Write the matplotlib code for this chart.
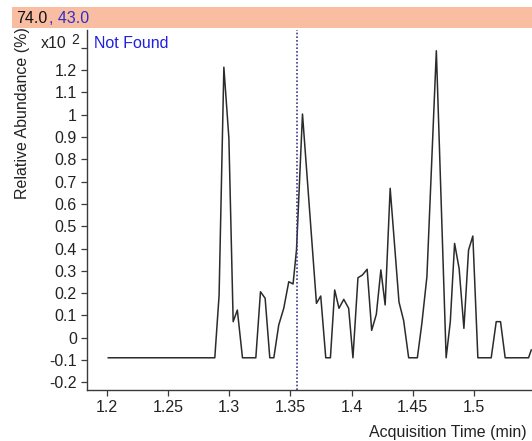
import matplotlib
matplotlib.use("Agg")
import matplotlib.pyplot as plt
from matplotlib.patches import Rectangle

plt.rcParams['font.family'] = ['Liberation Sans', 'DejaVu Sans']

# Extracted ion chromatogram (acquisition time in min, abundance x10^2 %)
times = [1.2013, 1.2883, 1.2918, 1.2957, 1.2998, 1.3033, 1.3067, 1.3109,
         1.3218, 1.3256, 1.3294, 1.3332, 1.3365, 1.3405, 1.3446, 1.3487,
         1.3522, 1.3550, 1.3599, 1.3713, 1.3748, 1.3789, 1.3827, 1.3862,
         1.3897, 1.3936, 1.3976, 1.4011, 1.4052, 1.4088, 1.4127, 1.4164,
         1.4202, 1.4239, 1.4274, 1.4315, 1.4387, 1.4425, 1.4466, 1.4537,
         1.4574, 1.4615, 1.4692, 1.4772, 1.4806, 1.4841, 1.4878, 1.4917,
         1.4955, 1.4990, 1.5031, 1.5140, 1.5181, 1.5216, 1.5254, 1.5445,
         1.5467]
abundance = [-0.09, -0.09, 0.19, 1.213, 0.895, 0.072, 0.124, -0.09,
             -0.09, 0.206, 0.177, -0.09, -0.09, 0.057, 0.132, 0.251,
             0.241, 0.393, 1.003, 0.154, 0.187, -0.09, -0.09, 0.214,
             0.132, 0.172, 0.132, -0.09, 0.269, 0.281, 0.307, 0.033,
             0.105, 0.304, 0.147, 0.670, 0.160, 0.077, -0.09, -0.09,
             0.065, 0.274, 1.287, -0.09, 0.072, 0.423, 0.310, 0.042,
             0.393, 0.456, -0.09, -0.09, 0.072, 0.072, -0.09, -0.09,
             -0.055]

marker_time = 1.3558

x_ticks = [1.2, 1.25, 1.3, 1.35, 1.4, 1.45, 1.5]
x_tick_labels = ["1.2", "1.25", "1.3", "1.35", "1.4", "1.45", "1.5"]
y_ticks = [-0.2, -0.1, 0, 0.1, 0.2, 0.3, 0.4, 0.5, 0.6, 0.7, 0.8, 0.9, 1.0,
           1.1, 1.2, 1.3]
y_tick_labels = ["-0.2", "-0.1", "0", "0.1", "0.2", "0.3", "0.4", "0.5",
                 "0.6", "0.7", "0.8", "0.9", "1", "1.1", "1.2", ""]

W, H = 532, 441
fig = plt.figure(figsize=(W / 100, H / 100), dpi=100)
ax = fig.add_axes([86.7 / W, 1 - 390 / H, (531.5 - 86.7) / W, (390 - 30) / H])

ax.plot(times, abundance, color='#2b2b2b', lw=1.1)
ax.axvline(marker_time, color='#3c3c8c', lw=1.2, ls=(0, (1, 1.2)))

ax.set_xlim(1.1837, 1.5469)
ax.set_ylim(-0.2345, 1.380)
ax.set_xticks(x_ticks)
ax.set_xticklabels(x_tick_labels)
ax.set_yticks(y_ticks)
ax.set_yticklabels(y_tick_labels)

for side in ('top', 'right'):
    ax.spines[side].set_visible(False)
for side in ('left', 'bottom'):
    ax.spines[side].set_color('#3a3a3a')
    ax.spines[side].set_linewidth(1.0)
ax.tick_params(direction='out', length=4, width=0.9, color='#3a3a3a',
               labelsize=11.5, labelcolor='#222222', pad=3)

fs = 11.5
# header band
fig.patches.append(Rectangle((11.7 / W, 1 - 28.3 / H), 1 - 11.7 / W,
                             (28.3 - 6.7) / H, transform=fig.transFigure,
                             facecolor='#F9BEA2', edgecolor='none', zorder=0))
fig.text(16.5 / W, 1 - 18.5 / H, "74.0", fontsize=fs, color='#111111',
         ha='left', va='center')
fig.text(49 / W, 1 - 18.5 / H, ", 43.0", fontsize=fs, color='#2f2fc8',
         ha='left', va='center')

# scale factor and status annotations
fig.text(40.5 / W, 1 - 44 / H, "x10", fontsize=fs, color='#222222',
         ha='left', va='center')
fig.text(71 / W, 1 - 40.5 / H, "2", fontsize=10, color='#222222',
         ha='left', va='center')
fig.text(93.5 / W, 1 - 43.5 / H, "Not Found", fontsize=fs, color='#2020dd',
         ha='left', va='center')

fig.text(22.5 / W, 1 - 27 / H, "Relative Abundance (%)", fontsize=fs,
         color='#222222', rotation=90, ha='center', va='top')
fig.text(527 / W, 1 - 432 / H, "Acquisition Time (min)", fontsize=fs,
         color='#222222', ha='right', va='center')

fig.savefig("out.png", dpi=100, facecolor='white')
